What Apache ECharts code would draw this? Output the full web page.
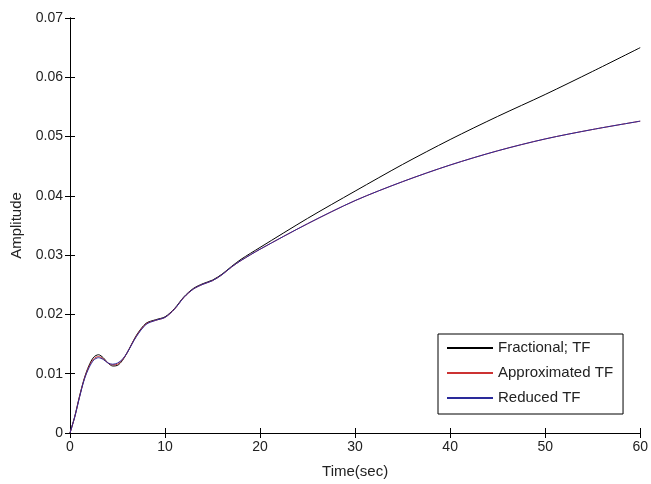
<!DOCTYPE html>
<html>
<head>
<meta charset="utf-8">
<script src="https://cdn.jsdelivr.net/npm/echarts@6/dist/echarts.min.js"></script>
<style>html,body{margin:0;padding:0;background:#fff;}#c{width:651px;height:484px;}</style>
</head>
<body>
<div id="c"></div>
<script>
var timeSec = [0,0.5,1,1.5,2,2.5,3,3.5,4,4.5,5,5.5,6,7,8,9,10,11,12,13,14,15,16,17,18,20,25,30,35,40,45,50,55,60];
var fractionalTF = [0,0.0028,0.0062,0.0092,0.0114,0.0128,0.0132,0.0127,0.0118,0.0113,0.0114,0.0122,0.0135,0.0165,0.0185,0.0191,0.0196,0.0210,0.0230,0.0244,0.0252,0.0258,0.0268,0.0281,0.0293,0.0313,0.0362,0.0408,0.0453,0.0495,0.0534,0.0571,0.0610,0.0650];
var approximatedTF = [0,0.0027,0.0061,0.0091,0.0112,0.0125,0.0129,0.0125,0.0118,0.0115,0.0116,0.0123,0.0135,0.0164,0.0184,0.0190,0.0195,0.0209,0.0229,0.0243,0.0251,0.0257,0.0267,0.0280,0.0291,0.0310,0.0353,0.0392,0.0424,0.0452,0.0476,0.0496,0.0512,0.0526];
var reducedTF = [0,0.0027,0.0060,0.0090,0.0110,0.0123,0.0127,0.0124,0.0118,0.0116,0.0118,0.0124,0.0135,0.0163,0.0183,0.0190,0.0195,0.0209,0.0229,0.0243,0.0251,0.0257,0.0267,0.0280,0.0291,0.0310,0.0353,0.0392,0.0424,0.0452,0.0476,0.0496,0.0512,0.0526];
var seriesNames = ['Fractional; TF','Approximated TF','Reduced TF'];
var xTitle = 'Time(sec)';
var yTitle = 'Amplitude';

function pairs(v){ return timeSec.map(function(t,i){return [t,v[i]];}); }
var font = '"Liberation Sans", Arial, sans-serif';
var chart = echarts.init(document.getElementById('c'));
var axisCommon = {
  axisLine:{show:true,lineStyle:{color:'#000',width:1}},
  axisTick:{show:true,inside:true,length:5,lineStyle:{color:'#000'}},
  splitLine:{show:false}
};
chart.setOption({
  animation:false,
  backgroundColor:'#fff',
  grid:{left:70,right:7,top:18,bottom:49,containLabel:false},
  xAxis:[
    Object.assign({type:'value',min:0,max:60,interval:10,position:'bottom',
      name:xTitle,nameLocation:'middle',nameGap:31,
      nameTextStyle:{color:'#222',fontSize:15,fontFamily:font},
      axisLabel:{color:'#222',fontSize:14,fontFamily:font,margin:7}},axisCommon),
    Object.assign({type:'value',min:0,max:60,interval:10,position:'top',axisLabel:{show:false}},axisCommon)
  ],
  yAxis:[
    Object.assign({type:'value',min:0,max:0.07,interval:0.01,position:'left',
      name:yTitle,nameLocation:'middle',nameGap:46,
      nameTextStyle:{color:'#222',fontSize:15,fontFamily:font},
      axisLabel:{color:'#222',fontSize:14,fontFamily:font,margin:7}},axisCommon),
    Object.assign({type:'value',min:0,max:0.07,interval:0.01,position:'right',axisLabel:{show:false}},axisCommon)
  ],
  legend:{
    orient:'vertical',left:438,top:334,
    backgroundColor:'#fff',borderColor:'#000',borderWidth:1,
    padding:[6,10,8,9],itemGap:9,itemWidth:46,itemHeight:2,icon:'rect',
    textStyle:{color:'#222',fontSize:15,fontFamily:font,lineHeight:16},
    data:seriesNames
  },
  series:[
    {name:seriesNames[0],type:'line',data:pairs(fractionalTF),smooth:0.3,showSymbol:false,symbol:'none',lineStyle:{color:'#000',width:1},itemStyle:{color:'#000'}},
    {name:seriesNames[1],type:'line',data:pairs(approximatedTF),smooth:0.3,showSymbol:false,symbol:'none',lineStyle:{color:'#cc3333',width:1},itemStyle:{color:'#cc3333'}},
    {name:seriesNames[2],type:'line',data:pairs(reducedTF),smooth:0.3,showSymbol:false,symbol:'none',lineStyle:{color:'#2a2a9a',width:1},itemStyle:{color:'#2a2a9a'}}
  ]
});
</script>
</body>
</html>
